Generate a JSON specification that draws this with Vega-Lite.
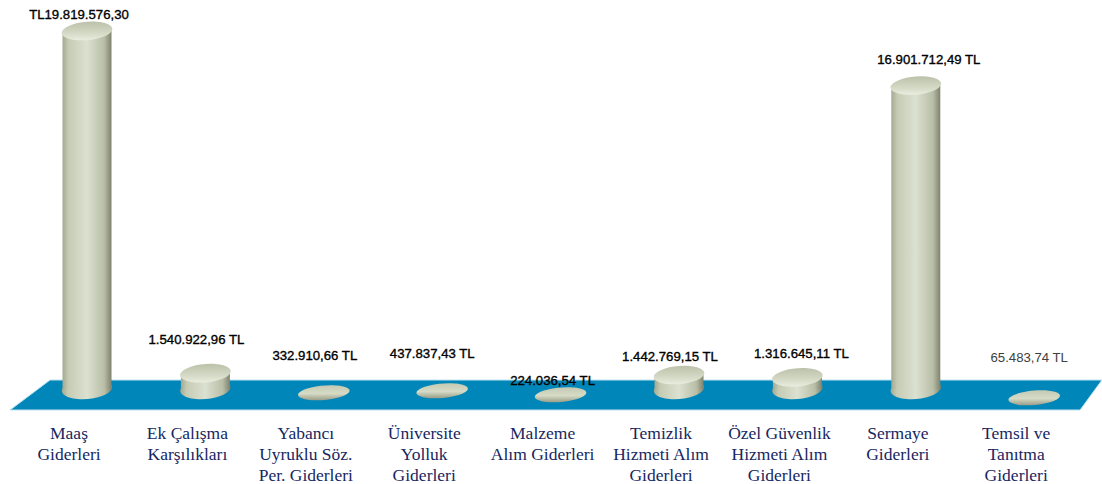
{
"$schema":"https://vega.github.io/schema/vega-lite/v6.json",
"width":1102,"height":420,"autosize":{"type":"none"},"padding":{"left":0,"right":0,"top":0,"bottom":64},
"background":"white",
"config":{"view":{"stroke":null}},
"datasets":{"main":[
{"cat":"Maaş|Giderleri","value":19819576.30,"label":"TL19.819.576,30"},
{"cat":"Ek Çalışma|Karşılıkları","value":1540922.96,"label":"1.540.922,96 TL"},
{"cat":"Yabancı|Uyruklu Söz.|Per. Giderleri","value":332910.66,"label":"332.910,66 TL"},
{"cat":"Üniversite|Yolluk|Giderleri","value":437837.43,"label":"437.837,43 TL"},
{"cat":"Malzeme|Alım Giderleri","value":224036.54,"label":"224.036,54 TL"},
{"cat":"Temizlik|Hizmeti Alım|Giderleri","value":1442769.15,"label":"1.442.769,15 TL"},
{"cat":"Özel Güvenlik|Hizmeti Alım|Giderleri","value":1316645.11,"label":"1.316.645,11 TL"},
{"cat":"Sermaye|Giderleri","value":16901712.49,"label":"16.901.712,49 TL"},
{"cat":"Temsil ve|Tanıtma|Giderleri","value":65483.74,"label":"65.483,74 TL"}
],
"floor":[
{"pos":0.35,"top":-427350,"bottom":-427350},
{"pos":0.6875,"top":1175200,"bottom":-427350},
{"pos":9.39,"top":1175200,"bottom":-427350},
{"pos":9.575,"top":1175200,"bottom":1175200}
]},
"layer":[
{"data":{"name":"floor"},
 "mark":{"type":"area","color":"#0086b8","stroke":"#bfe3f0","strokeWidth":1},
 "encoding":{
  "x":{"field":"pos","type":"quantitative","scale":{"domain":[0.265,9.575],"nice":false,"zero":false},"axis":null},
  "y":{"field":"top","type":"quantitative","scale":{"domain":[-961500,21474400],"nice":false},"axis":null},
  "y2":{"field":"bottom"}}},
{"data":{"name":"main"},
 "encoding":{
  "x":{"field":"cat","type":"nominal","sort":null,
   "scale":{"domain":["Maaş|Giderleri","Ek Çalışma|Karşılıkları","Yabancı|Uyruklu Söz.|Per. Giderleri","Üniversite|Yolluk|Giderleri","Malzeme|Alım Giderleri","Temizlik|Hizmeti Alım|Giderleri","Özel Güvenlik|Hizmeti Alım|Giderleri","Sermaye|Giderleri","Temsil ve|Tanıtma|Giderleri"],"range":[27.8,1093.4],"paddingInner":0,"paddingOuter":0},
   "axis":{"title":null,"domain":false,"ticks":false,"grid":false,"labelAngle":0,"labelExpr":"split(datum.label,'|')","labelFont":"Liberation Serif","labelFontSize":17.5,"labelColor":"#17275f","labelLineHeight":21,"labelOffset":-18,"labelPadding":4,"labelBaseline":"top","labelAlign":"center","labelOverlap":false,"labelLimit":0,"orient":"bottom"}}},
 "layer":[
 {"transform":[{"filter":"datum.value>1000000"}],
  "mark":{"type":"point","filled":true,"opacity":1,"strokeWidth":0,"size":2450,"shape":"M-1,0A1,0.4,-5,1,1,1,0A1,0.4,-5,1,1,-1,0Z",
   "color":{"gradient":"linear","x1":0,"x2":1,"y1":0,"y2":0,"stops":[{"offset":0,"color":"#a4a890"},{"offset":0.12,"color":"#c5cbb4"},{"offset":0.5,"color":"#dbe1d0"},{"offset":0.85,"color":"#b9bea7"},{"offset":1,"color":"#7f826d"}]}},
  "encoding":{"y":{"datum":694450,"type":"quantitative","scale":{"domain":[-961500,21474400],"nice":false},"axis":null}}},
 {"transform":[{"filter":"datum.value>1000000"}],
  "mark":{"type":"bar","size":49,
   "color":{"gradient":"linear","x1":0,"x2":1,"y1":0,"y2":0,"stops":[{"offset":0,"color":"#a4a890"},{"offset":0.12,"color":"#c5cbb4"},{"offset":0.5,"color":"#dbe1d0"},{"offset":0.85,"color":"#b9bea7"},{"offset":1,"color":"#7f826d"}]}},
  "encoding":{"y":{"field":"value","type":"quantitative","scale":{"domain":[-961500,21474400],"nice":false},"axis":null},"y2":{"datum":694450}}},
 {"transform":[{"filter":"datum.value>1000000"}],
  "mark":{"type":"point","filled":true,"opacity":1,"strokeWidth":0,"size":2450,"shape":"M-1,0A1,0.36,-5,1,1,1,0A1,0.36,-5,1,1,-1,0Z",
   "color":{"gradient":"linear","x1":0,"x2":0,"y1":0,"y2":1,"stops":[{"offset":0,"color":"#bcc1aa"},{"offset":0.6,"color":"#d3d9c4"},{"offset":1,"color":"#e9eddf"}]}},
  "encoding":{"y":{"field":"value","type":"quantitative","scale":{"domain":[-961500,21474400],"nice":false},"axis":null}}},
 {"transform":[{"filter":"datum.value<1000000"}],
  "mark":{"type":"point","filled":true,"opacity":1,"strokeWidth":0,"size":2450,"yOffset":-3,"shape":"M-1,0A1,0.28,-5,1,1,1,0A1,0.28,-5,1,1,-1,0Z",
   "color":{"gradient":"linear","x1":0,"x2":0,"y1":0,"y2":1,"stops":[{"offset":0,"color":"#c4c9b2"},{"offset":0.55,"color":"#d5dbc6"},{"offset":1,"color":"#9a9d87"}]}},
  "encoding":{"y":{"field":"value","type":"quantitative","scale":{"domain":[-961500,21474400],"nice":false},"axis":null}}},
 {"transform":[{"filter":"datum.value==19819576.30"}],"mark":{"type":"text","font":"Liberation Sans","fontSize":13.2,"stroke":"#000000","strokeWidth":0.35,"dx":-8,"dy":-16,"color":"#000000"},"encoding":{"y":{"field":"value","type":"quantitative"},"text":{"field":"label"}}},
 {"transform":[{"filter":"datum.value==1540922.96"}],"mark":{"type":"text","font":"Liberation Sans","fontSize":13.2,"stroke":"#000000","strokeWidth":0.35,"dx":-9,"dy":-33,"color":"#000000"},"encoding":{"y":{"field":"value","type":"quantitative"},"text":{"field":"label"}}},
 {"transform":[{"filter":"datum.value==332910.66"}],"mark":{"type":"text","font":"Liberation Sans","fontSize":13.2,"stroke":"#000000","strokeWidth":0.35,"dx":-9,"dy":-40,"color":"#000000"},"encoding":{"y":{"field":"value","type":"quantitative"},"text":{"field":"label"}}},
 {"transform":[{"filter":"datum.value==437837.43"}],"mark":{"type":"text","font":"Liberation Sans","fontSize":13.2,"stroke":"#000000","strokeWidth":0.35,"dx":-10,"dy":-40,"color":"#000000"},"encoding":{"y":{"field":"value","type":"quantitative"},"text":{"field":"label"}}},
 {"transform":[{"filter":"datum.value==224036.54"}],"mark":{"type":"text","font":"Liberation Sans","fontSize":13.2,"stroke":"#000000","strokeWidth":0.35,"dx":-8,"dy":-17,"color":"#000000"},"encoding":{"y":{"field":"value","type":"quantitative"},"text":{"field":"label"}}},
 {"transform":[{"filter":"datum.value==1442769.15"}],"mark":{"type":"text","font":"Liberation Sans","fontSize":13.2,"stroke":"#000000","strokeWidth":0.35,"dx":-9,"dy":-18,"color":"#000000"},"encoding":{"y":{"field":"value","type":"quantitative"},"text":{"field":"label"}}},
 {"transform":[{"filter":"datum.value==1316645.11"}],"mark":{"type":"text","font":"Liberation Sans","fontSize":13.2,"stroke":"#000000","strokeWidth":0.35,"dx":4,"dy":-23,"color":"#000000"},"encoding":{"y":{"field":"value","type":"quantitative"},"text":{"field":"label"}}},
 {"transform":[{"filter":"datum.value==16901712.49"}],"mark":{"type":"text","font":"Liberation Sans","fontSize":13.2,"stroke":"#000000","strokeWidth":0.35,"dx":13,"dy":-26,"color":"#000000"},"encoding":{"y":{"field":"value","type":"quantitative"},"text":{"field":"label"}}},
 {"transform":[{"filter":"datum.value==65483.74"}],"mark":{"type":"text","font":"Liberation Sans","fontSize":13.2,"dx":-5,"dy":-43,"color":"#404040"},"encoding":{"y":{"field":"value","type":"quantitative"},"text":{"field":"label"}}}
 ]}
],
"resolve":{"scale":{"x":"independent"}}
}
